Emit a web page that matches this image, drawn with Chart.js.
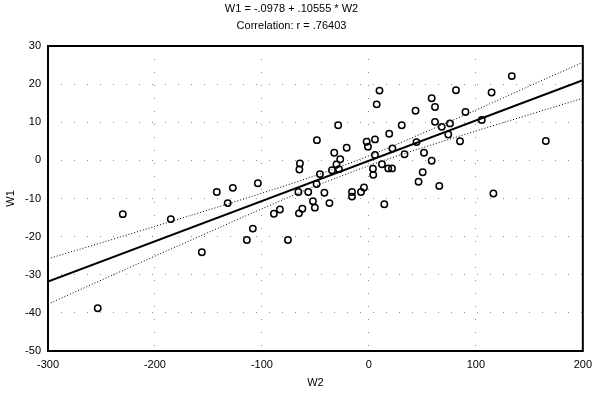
<!DOCTYPE html>
<html>
<head>
<meta charset="utf-8">
<script src="https://cdn.jsdelivr.net/npm/chart.js@4.4.0/dist/chart.umd.min.js"></script>
<style>
  html, body { margin: 0; padding: 0; background: #fff; }
  #wrap { width: 599px; height: 394px; }
</style>
</head>
<body>
<div id="wrap"><canvas id="grafico" width="599" height="394"></canvas></div>
<script>
// observaciones
const w2 = [-253.5, -230.1, -185.2, -156.2, -142.2, -127.2, -132.0, -114.1, -108.5, -103.8,
  -88.8, -83.2, -75.7, -65.4, -62.2, -65.9, -56.7, -64.5, -65.0, -52.3,
  -50.5, -48.9, -48.6, -45.8, -41.6, -36.9, -34.5, -32.4, -30.3, -28.0,
  -26.8, -28.7, -20.8, -15.8, -15.8, -7.4, -4.6, -2.1, -0.9, 3.8,
  4.1, 5.7, 5.7, 7.3, 9.9, 12.2, 14.4, 18.1, 21.6, 19.0,
  22.0, 30.7, 33.3, 43.6, 44.5, 46.4, 50.3, 51.5, 58.7, 61.8,
  58.7, 61.8, 68.1, 75.8, 65.8, 74.2, 81.4, 85.2, 90.3, 105.5,
  114.7, 116.4, 133.6, 165.4];
const w1 = [-38.8, -14.1, -15.4, -24.1, -8.3, -7.2, -11.2, -20.9, -17.9, -6.0,
  -14.0, -12.9, -20.9, -13.9, -12.7, -8.3, -8.3, -0.8, -2.4, -10.7,
  -12.4, -6.2, 5.3, -3.6, -8.5, -11.2, -2.6, 2.0, -1.1, -2.3,
  0.3, 9.2, 3.3, -8.3, -9.5, -8.3, -7.1, 4.9, 3.6, -2.2,
  -3.8, 1.4, 5.5, 14.7, 18.3, -1.0, -11.5, -2.1, -2.1, 7.0,
  3.1, 9.2, 1.6, 13.0, 4.8, -5.6, -3.1, 2.0, 16.3, 14.0,
  -0.1, 10.1, 8.8, 9.7, -6.7, 6.8, 18.4, 5.0, 12.7, 10.6,
  17.8, -8.7, 22.1, 5.1];

// recta de regresion y bandas de confianza
const rectaX = [-300, 200];
const rectaY = [-31.76, 21.01];
const bandaX = [-300, -250, -200, -150, -100, -50, 0, 50, 100, 150, 200];
const bandaSup = [-25.8, -21.6, -17.3, -13.0, -8.6, -4.0, 1.2, 7.1, 13.2, 19.5, 25.7];
const bandaInf = [-37.7, -31.4, -25.1, -18.9, -12.7, -6.75, -1.4, 3.3, 7.7, 12.0, 16.3];

const titulo = ['W1 = -.0978 + .10555 * W2', 'Correlation: r = .76403'];

const fuente = { family: '"Liberation Sans", Arial, sans-serif', size: 11 };

// marco negro alrededor del area del grafico
const marco = {
  id: 'marco',
  afterDatasetsDraw(chart) {
    const a = chart.chartArea;
    const ctx = chart.ctx;
    ctx.save();
    ctx.strokeStyle = '#000';
    ctx.lineWidth = 2;
    ctx.strokeRect(a.left, a.top, a.right - a.left, a.bottom - a.top);
    ctx.restore();
  }
};

const ejeGrid = {
  color: 'rgba(0,0,0,0.45)',
  lineWidth: 1,
  drawTicks: false
};

new Chart(document.getElementById('grafico').getContext('2d'), {
  type: 'scatter',
  data: {
    datasets: [
      {
        label: 'datos',
        data: w2.map((x, i) => ({ x: x, y: w1[i] })),
        pointStyle: 'circle',
        pointRadius: 3.2,
        borderColor: '#000',
        borderWidth: 1.5,
        backgroundColor: 'rgba(0,0,0,0)'
      },
      {
        label: 'recta',
        data: rectaX.map((x, i) => ({ x: x, y: rectaY[i] })),
        showLine: true,
        borderColor: '#000',
        borderWidth: 2,
        pointRadius: 0
      },
      {
        label: 'sup',
        data: bandaX.map((x, i) => ({ x: x, y: bandaSup[i] })),
        showLine: true,
        borderColor: '#000',
        borderWidth: 1,
        borderDash: [1, 2],
        cubicInterpolationMode: 'monotone',
        pointRadius: 0
      },
      {
        label: 'inf',
        data: bandaX.map((x, i) => ({ x: x, y: bandaInf[i] })),
        showLine: true,
        borderColor: '#000',
        borderWidth: 1,
        borderDash: [1, 2],
        cubicInterpolationMode: 'monotone',
        pointRadius: 0
      }
    ]
  },
  options: {
    responsive: false,
    animation: false,
    layout: { padding: { left: 0, right: 16, top: 0, bottom: 0 } },
    plugins: {
      legend: { display: false },
      tooltip: { enabled: false },
      title: {
        display: true,
        text: titulo,
        color: '#000',
        font: { family: fuente.family, size: 11, weight: 'normal', lineHeight: 1.5 },
        padding: { top: 1, bottom: 12 }
      }
    },
    scales: {
      x: {
        type: 'linear',
        min: -300,
        max: 200,
        ticks: { stepSize: 100, color: '#000', font: fuente, padding: 7, maxRotation: 0 },
        grid: ejeGrid,
        border: { display: false, dash: [1, 12] },
        title: { display: true, text: 'W2', color: '#000', font: fuente, padding: { top: 4, bottom: 4 } },
        afterFit(scale) { scale.height = 43; }
      },
      y: {
        min: -50,
        max: 30,
        ticks: { stepSize: 10, color: '#000', font: fuente, padding: 7 },
        grid: ejeGrid,
        border: { display: false, dash: [1, 12] },
        title: { display: true, text: 'W1', color: '#000', font: fuente, padding: { top: 4, bottom: 4 } },
        afterFit(scale) { scale.width = 48; }
      }
    }
  },
  plugins: [marco]
});
</script>
</body>
</html>
